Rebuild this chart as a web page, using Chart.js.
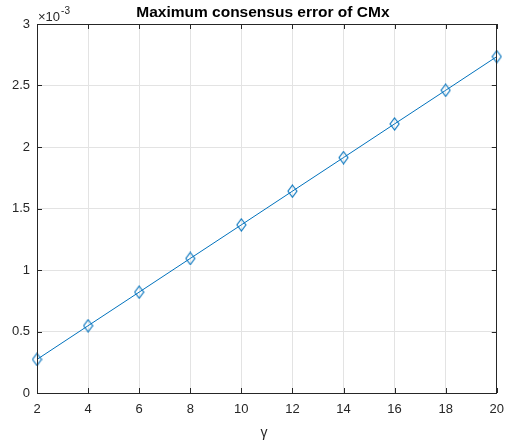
<!DOCTYPE html>
<html>
<head>
<meta charset="utf-8">
<script src="https://cdn.jsdelivr.net/npm/chart.js@4"></script>
<style>
  html, body { margin: 0; padding: 0; background: #fff; }
  #wrap { width: 513px; height: 443px; }
</style>
</head>
<body>
<div id="wrap"><canvas id="c"></canvas></div>
<script>
// data (y values in units of 1e-3)
const gammaVals = [2, 4, 6, 8, 10, 12, 14, 16, 18, 20];
const maxError = [0.273, 0.547, 0.82, 1.094, 1.367, 1.641, 1.914, 2.188, 2.461, 2.735];
const yTicks = [0, 0.5, 1, 1.5, 2, 2.5, 3];
const xTicks = [2, 4, 6, 8, 10, 12, 14, 16, 18, 20];

const titleText = 'Maximum consensus error of CMx';
const xLabel = 'γ';
const FONT = "'Liberation Sans', Arial, sans-serif";
const AXIS_COLOR = '#262626';
const LINE_COLOR = '#0072BD';

// MATLAB style diamond marker (taller than wide)
function makeDiamond() {
  const cv = document.createElement('canvas');
  cv.width = 11; cv.height = 14;
  const g = cv.getContext('2d');
  g.strokeStyle = LINE_COLOR;
  g.lineWidth = 1.1;
  g.beginPath();
  g.moveTo(5.5, 1);
  g.lineTo(10, 7);
  g.lineTo(5.5, 13);
  g.lineTo(1, 7);
  g.closePath();
  g.stroke();
  return cv;
}
const diamond = makeDiamond();

// box, inward ticks, title, exponent and x label
const matlabAxes = {
  id: 'matlabAxes',
  afterDraw(chart) {
    const ctx = chart.ctx;
    const a = chart.chartArea;
    const xs = chart.scales.x, ys = chart.scales.y;
    ctx.save();
    ctx.strokeStyle = AXIS_COLOR;
    ctx.lineWidth = 1;
    ctx.strokeRect(Math.round(a.left) + 0.5, Math.round(a.top) + 0.5,
      Math.round(a.right - a.left) - 1, Math.round(a.bottom - a.top));
    ctx.beginPath();
    const tl = 5;
    xTicks.forEach(v => {
      const px = Math.round(xs.getPixelForValue(v)) + 0.5;
      ctx.moveTo(px, a.bottom); ctx.lineTo(px, a.bottom - tl);
      ctx.moveTo(px, a.top); ctx.lineTo(px, a.top + tl);
    });
    yTicks.forEach(v => {
      const py = Math.round(ys.getPixelForValue(v)) + 0.5;
      ctx.moveTo(a.left, py); ctx.lineTo(a.left + tl, py);
      ctx.moveTo(a.right, py); ctx.lineTo(a.right - tl, py);
    });
    ctx.stroke();

    const cx = (a.left + a.right) / 2;
    ctx.fillStyle = '#000';
    ctx.font = 'bold 15.5px ' + FONT;
    ctx.textAlign = 'center';
    ctx.textBaseline = 'alphabetic';
    ctx.fillText(titleText, cx - 4, 17);

    ctx.fillStyle = AXIS_COLOR;
    ctx.font = '14px ' + FONT;
    ctx.fillText(xLabel, cx - 3, 437);

    // x10^-3 exponent label
    ctx.textAlign = 'left';
    ctx.font = '13px ' + FONT;
    ctx.fillText('\u00d710', a.left + 1, 21);
    const w = ctx.measureText('\u00d710').width;
    ctx.font = '10px ' + FONT;
    ctx.fillText('-3', a.left + 1 + w + 1, 14);
    ctx.restore();
  }
};

new Chart(document.getElementById('c'), {
  type: 'line',
  data: {
    datasets: [{
      data: gammaVals.map((g, i) => ({ x: g, y: maxError[i] })),
      borderColor: LINE_COLOR,
      borderWidth: 1,
      pointStyle: diamond,
      pointRadius: 6,
      pointHoverRadius: 6,
      tension: 0,
      clip: false
    }]
  },
  options: {
    responsive: true,
    maintainAspectRatio: false,
    animation: false,
    layout: { padding: { top: 24, right: 6, left: 0, bottom: 0 } },
    plugins: { legend: { display: false }, tooltip: { enabled: false }, title: { display: false } },
    scales: {
      x: {
        type: 'linear',
        min: 2, max: 20,
        afterFit(s) { s.height = 50; },
        afterBuildTicks(s) { s.ticks = xTicks.map(v => ({ value: v })); },
        grid: { color: '#e3e3e3', drawTicks: false },
        border: { display: false },
        ticks: { color: AXIS_COLOR, padding: 9, maxRotation: 0, font: { family: FONT, size: 13 } }
      },
      y: {
        min: 0, max: 3,
        afterFit(s) { s.width = 37; },
        afterBuildTicks(s) { s.ticks = yTicks.map(v => ({ value: v })); },
        grid: { color: '#e3e3e3', drawTicks: false },
        border: { display: false },
        ticks: { color: AXIS_COLOR, padding: 7, font: { family: FONT, size: 13 }, callback: v => String(v) }
      }
    }
  },
  plugins: [matlabAxes]
});
</script>
</body>
</html>
